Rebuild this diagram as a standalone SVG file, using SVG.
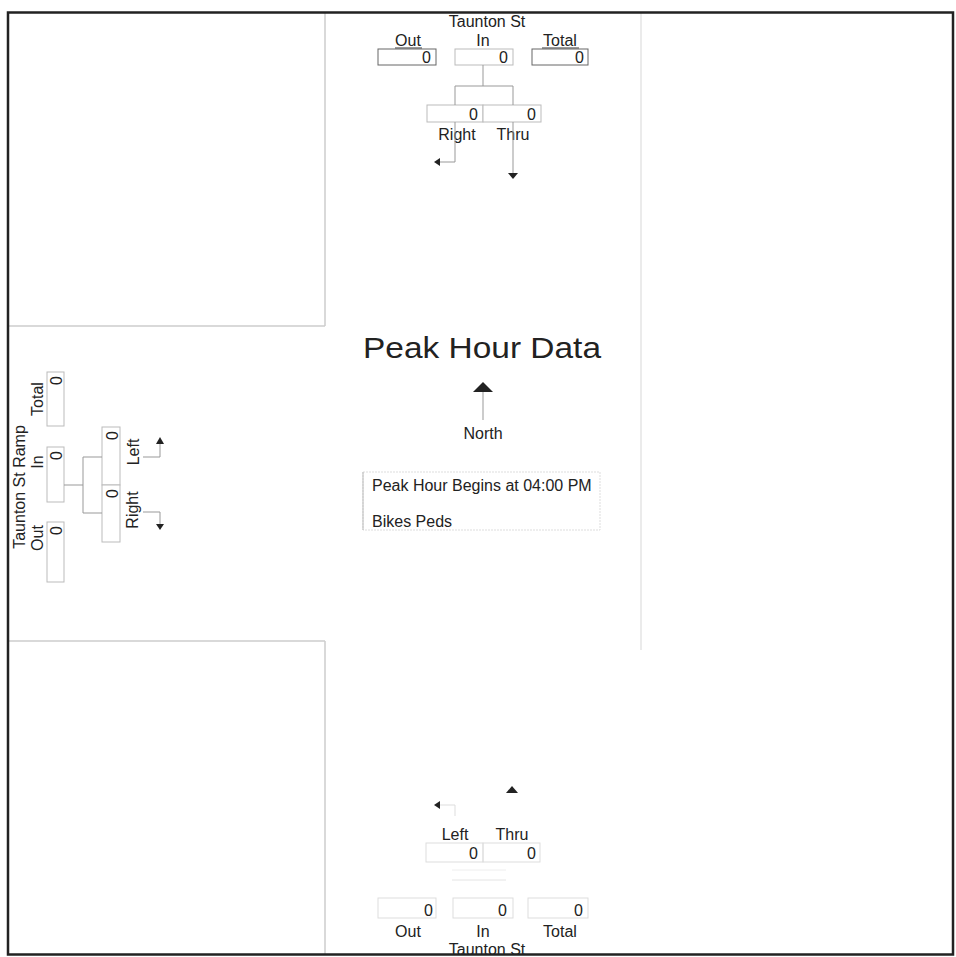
<svg xmlns="http://www.w3.org/2000/svg" width="956" height="957" viewBox="0 0 956 957">
<style>
text{font-family:"Liberation Sans",Arial,sans-serif;fill:#222}
.lbl{font-size:16px}
.val{font-size:16px}
.box{fill:#fff;stroke:#666;stroke-width:1}
.lbox{fill:#fff;stroke:#bbb;stroke-width:1}
.fbox{fill:none;stroke:#ddd;stroke-width:1}
.ln{stroke:#999;stroke-width:1;fill:none}
.grid{stroke:#ccc;stroke-width:1.5;fill:none}
.ah{fill:#222}
</style>
<rect x="0" y="0" width="956" height="957" fill="#fff"/>
<g id="frame">
<line class="grid" x1="8" y1="326" x2="325" y2="326"/>
<line class="grid" x1="325" y1="13" x2="325" y2="326"/>
<line class="grid" x1="8" y1="641" x2="325" y2="641"/>
<line class="grid" x1="325" y1="641" x2="325" y2="955"/>
<line stroke="#e4e4e4" stroke-width="1.5" x1="641" y1="13" x2="641" y2="650"/>
<rect x="8" y="12.5" width="945" height="942" fill="none" stroke="#222" stroke-width="2.5"/>
</g>
<g id="north-approach">
<text class="lbl" x="487" y="27" text-anchor="middle">Taunton St</text>
<text class="lbl" x="408" y="46" text-anchor="middle">Out</text>
<text class="lbl" x="483" y="46" text-anchor="middle">In</text>
<text class="lbl" x="560" y="46" text-anchor="middle">Total</text>
<line x1="395" y1="48" x2="422" y2="48" stroke="#333"/>
<line x1="542" y1="48" x2="579" y2="48" stroke="#333"/>
<rect class="box" x="378" y="49" width="58" height="16"/>
<rect class="lbox" x="455" y="49" width="58" height="16"/>
<rect class="box" x="532" y="49" width="56" height="16"/>
<text class="val" x="431" y="63" text-anchor="end">0</text>
<text class="val" x="508" y="63" text-anchor="end">0</text>
<text class="val" x="584" y="63" text-anchor="end">0</text>
<rect class="lbox" x="427" y="105" width="56" height="17"/>
<rect class="lbox" x="483" y="105" width="58" height="17"/>
<text class="val" x="478" y="120" text-anchor="end">0</text>
<text class="val" x="536" y="120" text-anchor="end">0</text>
<text class="lbl" x="457" y="140" text-anchor="middle">Right</text>
<text class="lbl" x="513" y="140" text-anchor="middle">Thru</text>
</g>
<g id="west-approach">
<text class="lbl" transform="translate(25,487) rotate(-90)" text-anchor="middle" font-size="17">Taunton St Ramp</text>
<text class="lbl" transform="translate(43,399) rotate(-90)" text-anchor="middle">Total</text>
<text class="lbl" transform="translate(43,462) rotate(-90)" text-anchor="middle">In</text>
<text class="lbl" transform="translate(43,538) rotate(-90)" text-anchor="middle">Out</text>
<rect class="lbox" x="47" y="372" width="17" height="54"/>
<rect class="lbox" x="47" y="447" width="17" height="55"/>
<rect class="lbox" x="47" y="522" width="17" height="60"/>
<text class="val" transform="translate(62,376) rotate(-90)" text-anchor="end">0</text>
<text class="val" transform="translate(62,451) rotate(-90)" text-anchor="end">0</text>
<text class="val" transform="translate(62,526) rotate(-90)" text-anchor="end">0</text>
<rect class="lbox" x="102" y="427" width="18" height="58"/>
<rect class="lbox" x="102" y="485" width="18" height="57"/>
<text class="val" transform="translate(118,431) rotate(-90)" text-anchor="end">0</text>
<text class="val" transform="translate(118,489) rotate(-90)" text-anchor="end">0</text>
<text class="lbl" transform="translate(139,452) rotate(-90)" text-anchor="middle">Left</text>
<text class="lbl" transform="translate(138,510) rotate(-90)" text-anchor="middle">Right</text>
</g>
<g id="south-approach">
<text class="lbl" x="455" y="840" text-anchor="middle">Left</text>
<text class="lbl" x="512" y="840" text-anchor="middle">Thru</text>
<rect class="fbox" x="426" y="843" width="57" height="19"/>
<rect class="fbox" x="483" y="843" width="57" height="19"/>
<text class="val" x="478" y="859" text-anchor="end">0</text>
<text class="val" x="536" y="859" text-anchor="end">0</text>
<line x1="452" y1="870" x2="506" y2="870" stroke="#eee"/>
<line x1="452" y1="880" x2="506" y2="880" stroke="#e4e4e4"/>
<rect class="fbox" x="378" y="898" width="58" height="20"/>
<rect class="fbox" x="453" y="898" width="60" height="20"/>
<rect class="fbox" x="528" y="898" width="60" height="20"/>
<text class="val" x="433" y="916" text-anchor="end">0</text>
<text class="val" x="507" y="916" text-anchor="end">0</text>
<text class="val" x="583" y="916" text-anchor="end">0</text>
<text class="lbl" x="408" y="937" text-anchor="middle">Out</text>
<text class="lbl" x="483" y="937" text-anchor="middle">In</text>
<text class="lbl" x="560" y="937" text-anchor="middle">Total</text>
<text class="lbl" x="487" y="955" text-anchor="middle">Taunton St</text>
</g>
<g id="center">
<text x="482" y="358" text-anchor="middle" font-size="29" textLength="238" lengthAdjust="spacingAndGlyphs">Peak Hour Data</text>
<line x1="483" y1="390" x2="483" y2="420" stroke="#999"/>
<polygon class="ah" points="473,392 493,392 483,382"/>
<text class="lbl" x="483" y="439" text-anchor="middle">North</text>
</g>
<g id="info">
<rect x="363" y="472" width="237" height="58" fill="none" stroke="#ddd" stroke-dasharray="2,1"/>
<line x1="363" y1="472" x2="363" y2="530" stroke="#bbb"/>
<text class="lbl" x="372" y="491">Peak Hour Begins at 04:00 PM</text>
<text class="lbl" x="372" y="527">Bikes  Peds</text>
</g>
<g id="connectors">
<path class="ln" d="M483,65 V86 M455,86 H513 M455,86 V105 M513,86 V105"/>
<path class="ln" d="M455,122 V162 H440"/>
<polygon class="ah" points="440,158 440,166 434,162"/>
<path class="ln" d="M513,122 V173"/>
<polygon class="ah" points="508,173 518,173 513,179"/>
<path class="ln" d="M64,485 H83 M83,457 V513 M83,457 H102 M83,513 H102"/>
<path class="ln" d="M143,457 H160 V444"/>
<polygon class="ah" points="156,444 164,444 160,437"/>
<path class="ln" d="M143,512 H160 V524"/>
<polygon class="ah" points="156,524 164,524 160,530"/>
<path d="M440,805 H455 V816" stroke="#ddd" fill="none"/>
<polygon class="ah" points="440,801 440,809 434,805"/>
<polygon class="ah" points="506,793 518,793 512,786"/>
</g>
</svg>
